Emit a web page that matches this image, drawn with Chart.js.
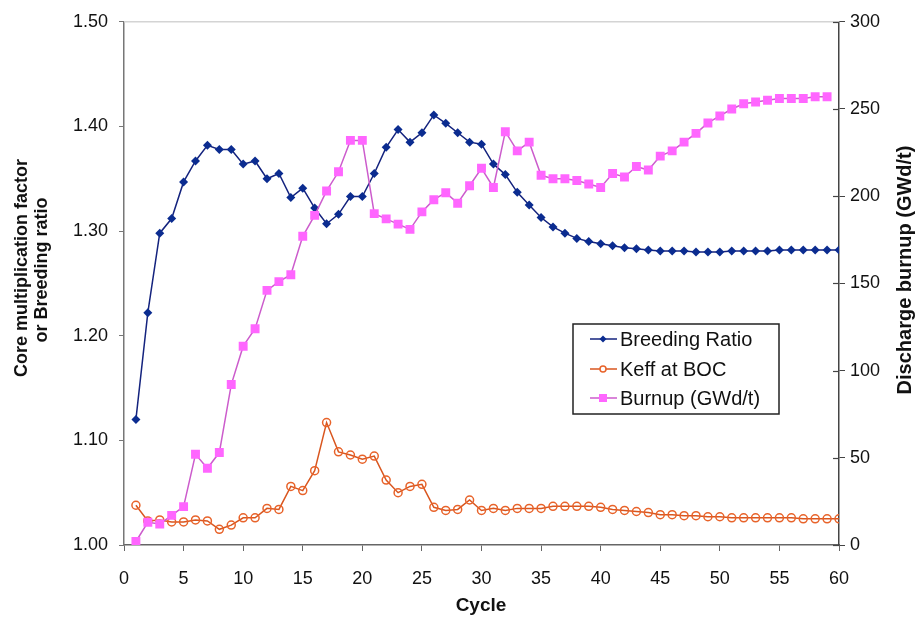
<!DOCTYPE html>
<html>
<head>
<meta charset="utf-8">
<script src="https://cdn.jsdelivr.net/npm/chart.js@4.4.1/dist/chart.umd.min.js"></script>
<style>
  body { margin: 0; background: #fff; }
  canvas { display: block; }
</style>
</head>
<body>
<canvas id="chart" width="916" height="619"></canvas>
<script>
// cycle numbers 1..60
const cycles = [1,2,3,4,5,6,7,8,9,10,11,12,13,14,15,16,17,18,19,20,
  21,22,23,24,25,26,27,28,29,30,31,32,33,34,35,36,37,38,39,40,
  41,42,43,44,45,46,47,48,49,50,51,52,53,54,55,56,57,58,59,60];

const breedingRatio = [1.120,1.222,1.298,1.312,1.347,1.367,1.382,1.378,1.378,1.364,
  1.367,1.350,1.355,1.332,1.341,1.322,1.307,1.316,1.333,1.333,
  1.355,1.380,1.397,1.385,1.394,1.411,1.403,1.394,1.385,1.383,
  1.364,1.354,1.337,1.325,1.313,1.304,1.298,1.293,1.290,1.288,
  1.286,1.284,1.283,1.282,1.281,1.281,1.281,1.280,1.280,1.280,
  1.281,1.281,1.281,1.281,1.282,1.282,1.282,1.282,1.282,1.282];

const keffBOC = [1.038,1.023,1.024,1.022,1.022,1.024,1.023,1.015,1.019,1.026,
  1.026,1.035,1.034,1.056,1.052,1.071,1.117,1.089,1.086,1.082,
  1.085,1.062,1.050,1.056,1.058,1.036,1.033,1.034,1.043,1.033,
  1.035,1.033,1.035,1.035,1.035,1.037,1.037,1.037,1.037,1.036,
  1.034,1.033,1.032,1.031,1.029,1.029,1.028,1.028,1.027,1.027,
  1.026,1.026,1.026,1.026,1.026,1.026,1.025,1.025,1.025,1.025];

// burnup ends at cycle 59
const burnup = [2,13,12,17,22,52,44,53,92,114,
  124,146,151,155,177,189,203,214,232,232,
  190,187,184,181,191,198,202,196,206,216,
  205,237,226,231,212,210,210,209,207,205,
  213,211,217,215,223,226,231,236,242,246,
  250,253,254,255,256,256,256,257,257];

const xTicks = [0, 60, 5];
const leftTicks = [1.0, 1.5, 0.1];
const rightTicks = [0, 300, 50];

const pts = arr => arr.map((v, i) => ({ x: cycles[i], y: v }));

const FONT = "'Liberation Sans', Arial, sans-serif";

const decor = {
  id: 'decor',
  beforeDatasetsDraw(chart) {
    const { ctx, chartArea: a } = chart;
    ctx.save();
    ctx.strokeStyle = '#d4d4d4';
    ctx.lineWidth = 1.5;
    ctx.beginPath();
    ctx.moveTo(a.left, a.top);
    ctx.lineTo(a.right, a.top);
    ctx.stroke();
    // inner half of the right axis ticks
    const y2 = chart.scales.y2;
    ctx.strokeStyle = '#444';
    ctx.lineWidth = 1.2;
    y2.ticks.forEach(t => {
      const y = Math.round(y2.getPixelForValue(t.value)) + 0.5;
      ctx.beginPath();
      ctx.moveTo(a.right - 6, y);
      ctx.lineTo(a.right, y);
      ctx.stroke();
    });
    ctx.restore();
  },
  afterDraw(chart) {
    const { ctx } = chart;
    ctx.save();
    ctx.fillStyle = '#111';
    ctx.textAlign = 'center';
    ctx.textBaseline = 'middle';

    // axis titles
    ctx.font = 'bold 18px ' + FONT;
    ctx.save();
    ctx.translate(22, 268);
    ctx.rotate(-Math.PI / 2);
    ctx.fillText('Core multiplication factor', 0, 0);
    ctx.restore();
    ctx.save();
    ctx.translate(42, 270);
    ctx.rotate(-Math.PI / 2);
    ctx.fillText('or Breeding ratio', 0, 0);
    ctx.restore();

    ctx.font = 'bold 20px ' + FONT;
    ctx.save();
    ctx.translate(905, 270);
    ctx.rotate(-Math.PI / 2);
    ctx.fillText('Discharge burnup (GWd/t)', 0, 0);
    ctx.restore();

    ctx.font = 'bold 19px ' + FONT;
    ctx.fillText('Cycle', 481, 606);

    // legend box
    const bx = 573, by = 324, bw = 206, bh = 90;
    ctx.fillStyle = '#fff';
    ctx.fillRect(bx, by, bw, bh);
    ctx.strokeStyle = '#222';
    ctx.lineWidth = 1.5;
    ctx.strokeRect(bx, by, bw, bh);

    const rows = [339, 369, 398];
    ctx.font = '20px ' + FONT;
    ctx.textAlign = 'left';
    chart.data.datasets.forEach(ds => {
      const y = rows[ds.legendRow];
      ctx.strokeStyle = ds.borderColor;
      ctx.lineWidth = 1.5;
      ctx.beginPath();
      ctx.moveTo(590, y);
      ctx.lineTo(617, y);
      ctx.stroke();
      const mx = 603;
      ctx.fillStyle = ds.pointBackgroundColor;
      ctx.strokeStyle = ds.pointBorderColor;
      ctx.beginPath();
      if (ds.pointStyle === 'rectRot') {
        ctx.moveTo(mx, y - 3.5); ctx.lineTo(mx + 3.5, y);
        ctx.lineTo(mx, y + 3.5); ctx.lineTo(mx - 3.5, y);
        ctx.closePath(); ctx.fill();
      } else if (ds.pointStyle === 'circle') {
        ctx.fillStyle = '#fff';
        ctx.arc(mx, y, 3, 0, Math.PI * 2);
        ctx.fill(); ctx.stroke();
      } else {
        ctx.rect(mx - 4, y - 4, 8, 8);
        ctx.fill();
      }
      ctx.fillStyle = '#111';
      ctx.fillText(ds.label, 620, y + 1);
    });
    ctx.restore();
  }
};

new Chart(document.getElementById('chart').getContext('2d'), {
  type: 'line',
  data: {
    datasets: [
      {
        label: 'Burnup (GWd/t)',
        legendRow: 2,
        data: pts(burnup),
        yAxisID: 'y2',
        borderColor: '#cc5ccc',
        borderWidth: 1.5,
        pointStyle: 'rect',
        pointRadius: 6.3,
        pointBackgroundColor: '#ff66ff',
        pointBorderColor: '#ff66ff',
        pointBorderWidth: 0,
        tension: 0,
        order: 0
      },
      {
        label: 'Breeding Ratio',
        legendRow: 0,
        data: pts(breedingRatio),
        yAxisID: 'y',
        borderColor: '#14237e',
        borderWidth: 1.5,
        pointStyle: 'rectRot',
        pointRadius: 4.5,
        pointBackgroundColor: '#0b2c90',
        pointBorderColor: '#0b2c90',
        pointBorderWidth: 0,
        tension: 0,
        order: 1
      },
      {
        label: 'Keff at BOC',
        legendRow: 1,
        data: pts(keffBOC),
        yAxisID: 'y',
        borderColor: '#d9561f',
        borderWidth: 1.5,
        pointStyle: 'circle',
        pointRadius: 4,
        pointBackgroundColor: 'rgba(255,255,255,0)',
        pointBorderColor: '#e8632a',
        pointBorderWidth: 1.5,
        tension: 0,
        order: 2
      }
    ]
  },
  options: {
    responsive: false,
    animation: false,
    devicePixelRatio: 1,
    layout: { padding: { top: 19, left: 0, right: 0, bottom: 0 } },
    plugins: { legend: { display: false }, tooltip: { enabled: false } },
    scales: {
      x: {
        type: 'linear',
        min: xTicks[0], max: xTicks[1],
        afterFit: s => { s.height = 74; },
        ticks: { stepSize: xTicks[2], color: '#111', padding: 17, font: { size: 18, family: FONT } },
        grid: { display: true, drawOnChartArea: false, drawTicks: true, tickLength: 6, color: '#666' },
        border: { color: '#666', width: 1.5 }
      },
      y: {
        position: 'left',
        min: leftTicks[0], max: leftTicks[1],
        afterFit: s => { s.width = 124; },
        ticks: { stepSize: leftTicks[2], color: '#111', padding: 11,
                 font: { size: 18, family: FONT }, callback: v => v.toFixed(2) },
        grid: { display: true, drawOnChartArea: false, drawTicks: true, tickLength: 5, color: '#777' },
        border: { color: '#777', width: 1.5 }
      },
      y2: {
        position: 'right',
        min: rightTicks[0], max: rightTicks[1],
        afterFit: s => { s.width = 77; },
        ticks: { stepSize: rightTicks[2], color: '#111', padding: 5, font: { size: 18, family: FONT } },
        grid: { display: true, drawOnChartArea: false, drawTicks: true, tickLength: 6, color: '#444' },
        border: { color: '#444', width: 1.5 }
      }
    }
  },
  plugins: [decor]
});
</script>
</body>
</html>
